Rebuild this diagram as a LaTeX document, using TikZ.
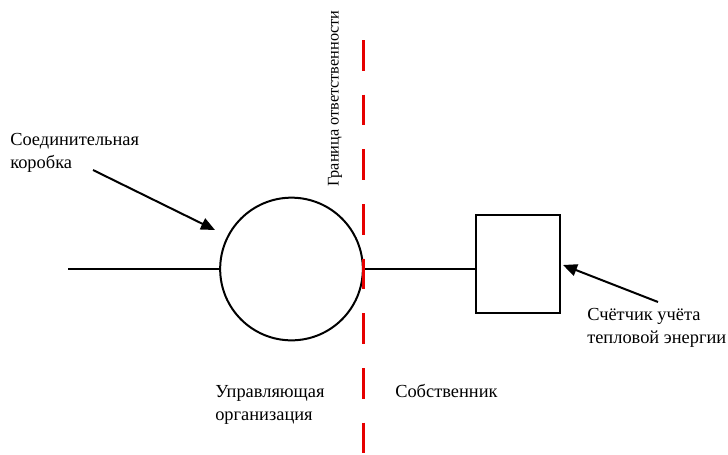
\documentclass[tikz,border=0pt]{standalone}
\usepackage{fontspec}
\setmainfont{Liberation Serif}
\usetikzlibrary{shapes}
\usetikzlibrary{arrows}
\usetikzlibrary{arrows.meta}
\usetikzlibrary{positioning}
\usetikzlibrary{calc}

\begin{document}
\begin{tikzpicture}[x=0.75pt,y=-0.75pt]
        \tikzstyle{every node}=[inner sep=0pt, font=\fontsize{13.8}{17}\selectfont, align=left]
        \tikzstyle{obj}=[draw, line width=1.5pt]
        \tikzstyle{pointer}=[-{Triangle[length=10.5pt,width=9pt]}, line width=1.5pt]
        \useasboundingbox (0,0) rectangle (728,454);
        \node[obj, circle, minimum size=107pt] (korobka) at (291.5,269) {};
        \node[obj, rectangle, minimum width=63pt, minimum height=73.5pt] (schetchik) at (518,264) {};
        \coordinate (vvod) at (68,269);
        \path [draw, line width=1.5pt] (vvod) -- (korobka.west);
        \path [draw, line width=1.5pt] (korobka.east) -- (schetchik.west |- korobka.east);
        % granica
        \coordinate (granicaTop) at (363.5,40);
        \coordinate (granicaBot) at (363.5,470);
        \path [draw, color={rgb,255:red,230;green,0;blue,0}, line width=2.6pt, dash pattern=on 23pt off 18pt] (granicaTop) -- (granicaBot);
        \node[rotate=90, anchor=base west, font=\fontsize{12.2}{14}\selectfont] (granica) at (338.5,187) {Граница ответственности};
        % podpisi (base = last line)
        \node[anchor=base west] (soed) at (10,168) {Соединительная\\коробка};
        \node[anchor=base west] (schet) at (587,343) {Счётчик учёта\\тепловой энергии};
        \node[anchor=base west] (uo) at (215,420) {Управляющая\\организация};
        \node[anchor=base west] (sobst) at (395,397) {Собственник};
        \coordinate (soedTail) at (93,170);
        \coordinate (soedTip) at (215,230);
        \coordinate (schetTail) at (658,302);
        \coordinate (schetTip) at (563,265);
        \path [pointer, draw] (soedTail) -- (soedTip);
        \path [pointer, draw] (schetTail) -- (schetTip);
\end{tikzpicture}
\end{document}
